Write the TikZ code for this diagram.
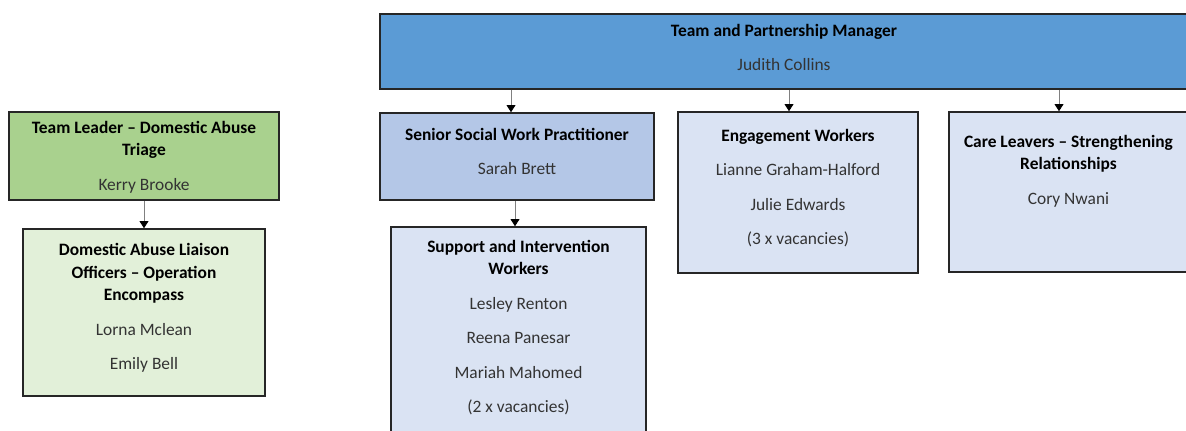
\documentclass[tikz,border=0pt]{standalone}
\usepackage{fontspec}
\setmainfont{Carlito}
\usetikzlibrary{arrows.meta, calc}

\definecolor{mgrblue}{HTML}{5B9BD5}
\definecolor{leadgreen}{HTML}{A9D18E}
\definecolor{palegreen}{HTML}{E2F0D9}
\definecolor{midblue}{HTML}{B4C7E7}
\definecolor{paleblue}{HTML}{DAE3F3}

% width, height, first baseline, text
\newcommand{\orgcell}[4]{\begin{minipage}[c][#2][t]{#1}\centering\rule{0pt}{#3}#4\end{minipage}}
\newcommand{\role}[1]{{\color{black}\bfseries #1}}
\newcommand{\gap}{\\[6.9pt]}

\tikzset{orgbox/.style={draw=black!85, line width=0.9pt, inner sep=0pt, text=black!80,
                        font=\fontsize{9.9}{12.8}\selectfont}}

\begin{document}
\begin{tikzpicture}[x=0.02cm, y=-0.02cm]
\useasboundingbox (0,0) rectangle (1186,430);
\clip (0,0) rectangle (1186,430);
\begin{scope}
    \node[orgbox, fill=mgrblue] (mgr) at (784,51.5)
        {\orgcell{16.16cm}{1.5cm}{0.44cm}{\role{Team and Partnership Manager}\gap Judith Collins}};

    \node[orgbox, fill=leadgreen] (lead) at (144,156)
        {\orgcell{5.4cm}{1.76cm}{0.43cm}{\role{Team Leader -- Domestic Abuse\\Triage}\gap Kerry Brooke}};
    \node[orgbox, fill=palegreen] (liaison) at (144,312.5)
        {\orgcell{4.84cm}{3.34cm}{0.53cm}{\role{Domestic Abuse Liaison\\Officers -- Operation\\Encompass}\gap Lorna Mclean\gap Emily Bell}};

    \node[orgbox, fill=midblue] (senior) at (517,156.5)
        {\orgcell{5.48cm}{1.74cm}{0.54cm}{\role{Senior Social Work Practitioner}\gap Sarah Brett}};
    \node[orgbox, fill=paleblue] (support) at (518.5,336)
        {\orgcell{5.1cm}{4.36cm}{0.5cm}{\role{Support and Intervention\\Workers}\gap Lesley Renton\gap Reena Panesar\gap Mariah Mahomed\gap (2 x vacancies)}};

    \node[orgbox, fill=paleblue] (engage) at (798,192.5)
        {\orgcell{4.8cm}{3.22cm}{0.58cm}{\role{Engagement Workers}\gap Lianne Graham-Halford\gap Julie Edwards\gap (3 x vacancies)}};
    \node[orgbox, fill=paleblue] (leavers) at (1068.5,192)
        {\orgcell{4.78cm}{3.2cm}{0.7cm}{\role{Care Leavers -- Strengthening\\Relationships}\gap Cory Nwani}};
\end{scope}

\begin{scope}[>={Triangle[black, length=4pt, width=5pt]},
              every edge/.style={draw=black!50, line width=0.5pt}]
    \path [->] ($(senior.north |- mgr.south)+(-6,0)$) edge ($(senior.north)+(-6,0)$);
    \path [->] ($(engage.north |- mgr.south)+(-9,0)$) edge ($(engage.north)+(-9,0)$);
    \path [->] ($(leavers.north |- mgr.south)+(-9.5,0)$) edge ($(leavers.north)+(-9.5,0)$);
    \path [->] ($(support.north |- senior.south)+(-3.5,0)$) edge ($(support.north)+(-3.5,0)$);
    \path [->] (lead.south) edge (liaison.north);
\end{scope}
\end{tikzpicture}
\end{document}
